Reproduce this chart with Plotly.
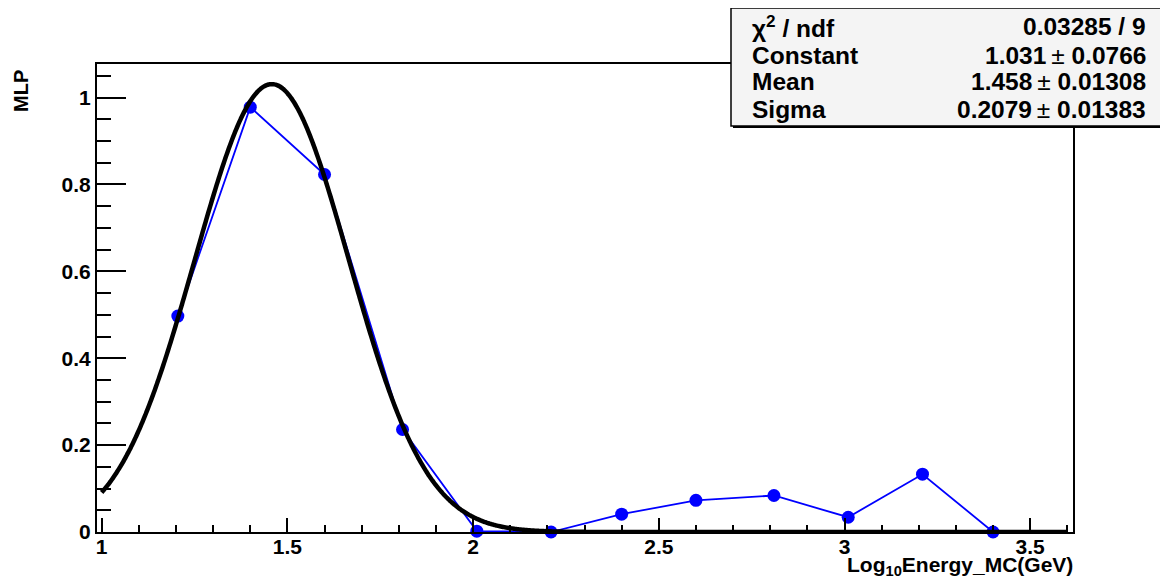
import numpy as np
import plotly.graph_objects as go

# ---- data ----
energy_x = [1.205, 1.4, 1.6, 1.81, 2.01, 2.21, 2.4, 2.6, 2.81, 3.01, 3.21, 3.4]
mlp_y = [0.497, 0.978, 0.823, 0.236, 0.002, 0.0, 0.041, 0.073, 0.084, 0.034, 0.133, 0.0]

# Gaussian fit parameters (from the stats box)
fit_const = 1.031
fit_mean = 1.458
fit_sigma = 0.2079
fit_range = [1.0, 3.6]

x_ticks = [1, 1.5, 2, 2.5, 3, 3.5]
y_ticks = [0, 0.2, 0.4, 0.6, 0.8, 1]

PM = "\u2009<span style='font-weight:normal'>±</span> "
stats_labels = ["χ<sup>2</sup> / ndf", "Constant", "Mean", "Sigma"]
stats_values = [
    "0.03285 / 9",
    "1.031" + PM + "0.0766",
    "1.458" + PM + "0.01308",
    "0.2079" + PM + "0.01383",
]

# ---- layout geometry (pixels in the final screenshot) ----
OFF = 8                      # page body margin
W, H = 1168 - OFF, 580 - OFF
L, R, T, B = 97, 1073, 64, 532
pw, ph = R - L, B - T


def px_x(p):
    return (p - L) / pw


def px_y(p):
    return (B - p) / ph


xfit = np.linspace(fit_range[0], fit_range[1], 800)
yfit = fit_const * np.exp(-0.5 * ((xfit - fit_mean) / fit_sigma) ** 2)

FONT = "Liberation Sans"

fig = go.Figure()
fig.add_trace(go.Scatter(
    x=energy_x, y=mlp_y, mode="lines+markers",
    line=dict(color="#0000ff", width=1.8),
    marker=dict(color="#0000ff", size=13),
    cliponaxis=False, showlegend=False,
))
fig.add_trace(go.Scatter(
    x=xfit, y=yfit, mode="lines",
    line=dict(color="black", width=4.5, shape="spline"),
    cliponaxis=False, showlegend=False,
))

fig.update_layout(
    width=W, height=H,
    margin=dict(l=L - OFF, r=(1168 - R), t=T - OFF, b=(580 - B), pad=0),
    plot_bgcolor="white", paper_bgcolor="white",
    font=dict(family=FONT, color="black"),
    showlegend=False,
)

fig.update_xaxes(
    range=[1 - (101.7 - L) / 371.4, 1 + (R - 101.7) / 371.4],
    tickvals=x_ticks, ticktext=[str(v) for v in x_ticks],
    ticks="inside", ticklen=14, tickwidth=1.5, tickcolor="black",
    minor=dict(dtick=0.1, tick0=1, ticks="inside", ticklen=7, tickwidth=1.5, tickcolor="black"),
    showline=True, linecolor="black", linewidth=2, mirror=True,
    showgrid=False, zeroline=False, automargin=False,
    ticklabelstandoff=-5,
    tickfont=dict(family=FONT, size=21, color="black", weight="bold"),
)
fig.update_yaxes(
    range=[0, (B - T) / 434.4],
    tickvals=y_ticks, ticktext=["0", "0.2", "0.4", "0.6", "0.8", "1"],
    ticks="inside", ticklen=29, tickwidth=1.5, tickcolor="black",
    minor=dict(dtick=0.05, tick0=0, ticks="inside", ticklen=14, tickwidth=1.5, tickcolor="black"),
    showline=True, linecolor="black", linewidth=2, mirror=True,
    showgrid=False, zeroline=False, automargin=False,
    tickfont=dict(family=FONT, size=21, color="black", weight="bold"),
)

# stats box with shadow
bx0, bx1, by0, by1 = 731, 1165, 8, 126
fig.add_shape(type="rect", xref="paper", yref="paper",
              x0=px_x(bx0 + 2), x1=px_x(bx1 + 2), y0=px_y(by1 + 2), y1=px_y(by0 + 2),
              fillcolor="black", line=dict(width=0), layer="above")
fig.add_shape(type="rect", xref="paper", yref="paper",
              x0=px_x(bx0), x1=px_x(bx1), y0=px_y(by1), y1=px_y(by0),
              fillcolor="#f4f4f4", line=dict(color="black", width=1.5), layer="above")

row_y = [26, 55, 82, 109]
for lab, val, ry in zip(stats_labels, stats_values, row_y):
    fig.add_annotation(xref="paper", yref="paper", x=px_x(750), y=px_y(ry),
                       xanchor="left", yanchor="middle", showarrow=False,
                       text=lab, font=dict(family=FONT, size=24.5, color="black", weight="bold"))
    fig.add_annotation(xref="paper", yref="paper", x=px_x(1148), y=px_y(ry),
                       xanchor="right", yanchor="middle", showarrow=False,
                       text=val, font=dict(family=FONT, size=24.5, color="black", weight="bold"))

# axis titles
fig.add_annotation(xref="paper", yref="paper", x=px_x(1075), y=px_y(566),
                   xanchor="right", yanchor="middle", showarrow=False,
                   text="Log<sub>10</sub>Energy_MC(GeV)",
                   font=dict(family=FONT, size=21, color="black", weight="bold"))
fig.add_annotation(xref="paper", yref="paper", x=px_x(21), y=px_y(91),
                   xanchor="center", yanchor="middle", showarrow=False, textangle=-90,
                   text="MLP", font=dict(family=FONT, size=20, color="black", weight="bold"))

fig.write_html("out.html")
